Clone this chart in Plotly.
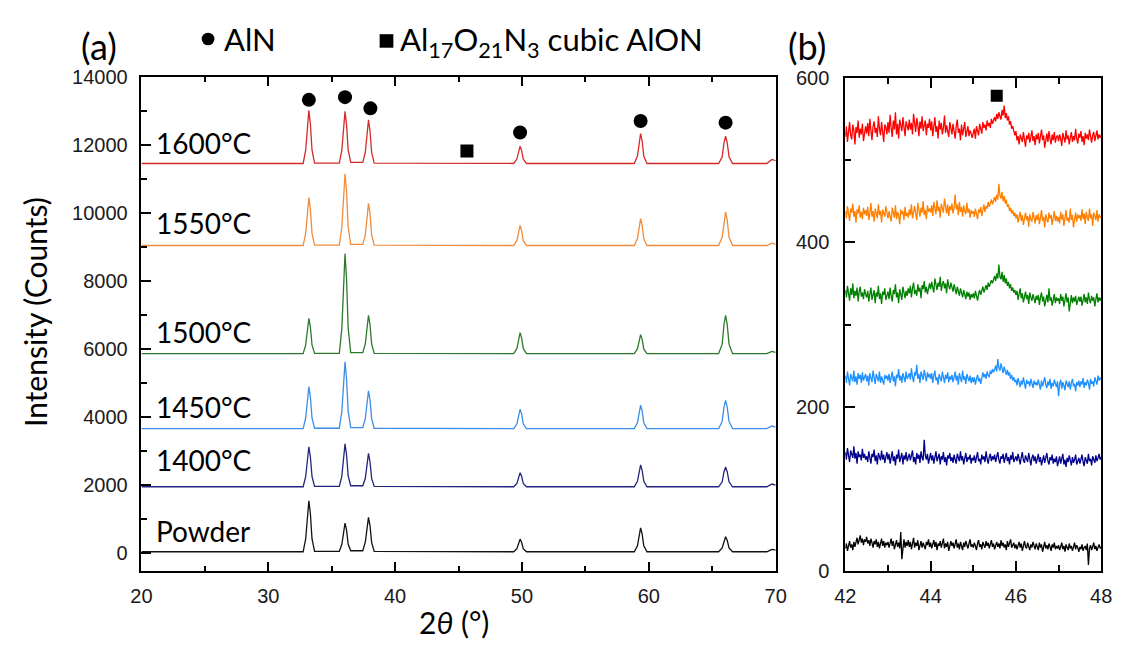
import plotly.graph_objects as go

W, H = 1123, 654

# ---------------- panel (a): full XRD patterns, 2θ = 20–70° ----------------
TWO_THETA_A = [20,
               32.75, 32.95, 33.08, 33.2, 33.32, 33.45, 33.65,
               35.6, 35.8, 35.93, 36.05, 36.17, 36.3, 36.5,
               37.45, 37.65, 37.78, 37.9, 38.02, 38.15, 38.35,
               49.35, 49.6, 49.73, 49.85, 49.97, 50.1, 50.35,
               58.85, 59.1, 59.23, 59.35, 59.47, 59.6, 59.85,
               65.5, 65.78, 65.92, 66.05, 66.18, 66.32, 66.6,
               69.3, 69.7, 70]

I_POWDER = [40,
            40, 415, 1165, 1540, 1165, 415, 50,
            50, 260, 680, 880, 680, 260, 70,
            70, 320, 810, 1050, 810, 310, 50,
            40, 130, 320, 410, 320, 130, 40,
            40, 215, 565, 740, 565, 215, 40,
            40, 150, 370, 480, 370, 150, 40,
            40, 110, 90]
I_1400 = [1950,
          1950, 2245, 2830, 3125, 2830, 2245, 1960,
          1960, 2265, 2895, 3210, 2895, 2270, 1980,
          1980, 2200, 2685, 2930, 2685, 2195, 1960,
          1950, 2050, 2260, 2360, 2260, 2050, 1950,
          1950, 2110, 2430, 2590, 2430, 2110, 1950,
          1950, 2095, 2385, 2530, 2385, 2095, 1950,
          1950, 2030, 2000]
I_1450 = [3660,
          3660, 3970, 4585, 4890, 4585, 3970, 3670,
          3670, 4160, 5130, 5620, 5130, 4165, 3690,
          3690, 3950, 4495, 4770, 4495, 3945, 3670,
          3660, 3800, 4090, 4230, 4090, 3800, 3660,
          3660, 3830, 4180, 4350, 4180, 3830, 3660,
          3660, 3870, 4285, 4490, 4285, 3870, 3660,
          3660, 3740, 3700]
I_1500 = [5860,
          5860, 6120, 6640, 6900, 6640, 6120, 5870,
          5870, 6605, 8065, 8800, 8065, 6610, 5890,
          5890, 6150, 6715, 6990, 6715, 6145, 5870,
          5860, 6015, 6325, 6480, 6325, 6015, 5860,
          5860, 6000, 6280, 6420, 6280, 6000, 5860,
          5860, 6140, 6710, 6990, 6710, 6140, 5860,
          5860, 5930, 5900]
I_1550 = [9040,
          9040, 9390, 10100, 10450, 10100, 9395, 9050,
          9050, 9575, 10625, 11150, 10625, 9580, 9070,
          9070, 9345, 9975, 10280, 9975, 9345, 9050,
          9040, 9190, 9480, 9630, 9480, 9190, 9040,
          9040, 9240, 9630, 9830, 9630, 9240, 9040,
          9040, 9290, 9780, 10030, 9780, 9290, 9040,
          9040, 9110, 9080]
I_1600 = [11450,
          11450, 11840, 12620, 13010, 12620, 11840, 11460,
          11460, 11840, 12600, 12980, 12600, 11845, 11480,
          11480, 11780, 12410, 12730, 12410, 11775, 11460,
          11450, 11580, 11830, 11960, 11830, 11580, 11450,
          11450, 11670, 12110, 12330, 12110, 11670, 11450,
          11450, 11650, 12050, 12250, 12050, 11650, 11450,
          11450, 11570, 11530]

SAMPLES = ["Powder", "1400°C", "1450°C", "1500°C", "1550°C", "1600°C"]
PATTERNS_A = [I_POWDER, I_1400, I_1450, I_1500, I_1550, I_1600]
COLORS_A = ["#111111", "#24247e", "#3d8ee6", "#2d7a2d", "#f08c3c", "#d42a2a"]
LABEL_Y_A = [650, 2730, 4290, 6500, 9690, 12050]

# phase markers above the reflections
ALN_X = [33.2, 36.05, 38.05, 49.85, 59.35, 66.05]
ALN_Y = [13320, 13400, 13070, 12360, 12700, 12650]
ALON_X_A = [45.66]
ALON_Y_A = [11820]

# ---------------- panel (b): detail scans, 2θ = 42–48°, step 0.025° ----------------
B_1600 = [528, 541, 522, 537, 546, 530, 525, 543, 536, 519, 540, 533, 548, 527, 538, 531, 544, 523, 536, 541,
          532, 545, 529, 550, 536, 524, 541, 547, 533, 539, 528, 553, 538, 530, 546, 535, 522, 543, 540, 531,
          546, 533, 555, 539, 528, 548, 537, 558, 531, 544, 526, 549, 540, 535, 552, 538, 529, 547, 542, 536,
          549, 537, 545, 531, 556, 540, 534, 551, 543, 529, 547, 538, 553, 535, 542, 548, 530, 544, 539, 550,
          536, 547, 529, 543, 552, 534, 541, 526, 548, 537, 545, 531, 539, 554, 533, 542, 536, 528, 546, 540,
          531, 544, 535, 526, 541, 549, 533, 538, 524, 543, 530, 537, 546, 528, 535, 541, 529, 536, 532, 527,
          533, 538, 526, 541, 535, 530, 544, 537, 532, 546, 539, 543, 536, 548, 541, 545, 539, 550, 544, 548,
          552, 547, 556, 550, 558, 553, 549, 561, 554, 566, 551, 557, 548, 553, 543, 547, 538, 541, 533, 530,
          535, 524, 529, 519, 531, 526, 522, 534, 527, 516, 530, 525, 533, 521, 528, 536, 523, 529, 518, 531,
          525, 533, 520, 528, 537, 524, 530, 515, 527, 532, 522, 535, 526, 519, 531, 524, 534, 521, 528, 530,
          523, 531, 526, 517, 533, 528, 521, 536, 525, 530, 519, 527, 534, 522, 529, 524, 538, 526, 520, 532,
          527, 535, 522, 529, 518, 533, 526, 531, 524, 537, 528, 521, 530, 534, 523, 529, 536, 525, 531, 527,
          530]
B_1550 = [438, 429, 444, 433, 426, 441, 436, 447, 431, 438, 424, 440, 435, 445, 430, 437, 428, 442, 434, 439,
          432, 443, 427, 436, 448, 431, 438, 425, 441, 435, 429, 446, 433, 438, 424, 440, 436, 431, 444, 437,
          429, 438, 433, 425, 442, 436, 430, 445, 428, 437, 433, 422, 440, 434, 438, 427, 443, 432, 436, 430,
          440, 433, 446, 429, 438, 444, 435, 427, 448, 437, 431, 442, 436, 450, 433, 439, 428, 445, 437, 441,
          436, 445, 432, 449, 439, 434, 451, 438, 443, 430, 447, 440, 436, 453, 441, 435, 446, 432, 444, 439,
          447, 435, 442, 458, 440, 446, 433, 449, 437, 443, 431, 445, 438, 434, 448, 436, 441, 430, 439, 435,
          438, 431, 441, 434, 428, 440, 436, 443, 432, 439, 446, 437, 444, 441, 449, 443, 447, 452, 446, 450,
          455, 449, 458, 452, 471, 457, 453, 461, 450, 456, 447, 452, 443, 446, 438, 442, 435, 439, 432, 436,
          429, 434, 424, 431, 437, 426, 433, 421, 430, 436, 427, 432, 419, 434, 428, 425, 437, 430, 423, 433,
          427, 435, 422, 430, 439, 426, 431, 418, 434, 428, 424, 436, 429, 433, 421, 430, 438, 426, 432, 425,
          431, 423, 437, 428, 434, 420, 432, 439, 426, 430, 424, 441, 427, 433, 418, 431, 436, 425, 434, 429,
          433, 426, 440, 428, 435, 422, 437, 430, 426, 441, 429, 434, 420, 436, 431, 427, 439, 425, 434, 430,
          432]
B_1500 = [342, 333, 347, 338, 329, 344, 336, 350, 332, 341, 335, 345, 328, 340, 346, 334, 339, 331, 343, 337,
          333, 341, 328, 337, 345, 330, 336, 342, 326, 339, 334, 347, 331, 338, 325, 340, 336, 344, 330, 337,
          340, 331, 345, 335, 328, 342, 337, 349, 333, 339, 326, 343, 336, 330, 346, 338, 332, 341, 335, 344,
          338, 347, 333, 344, 351, 337, 342, 335, 349, 340, 345, 332, 348, 343, 353, 339, 346, 337, 344, 350,
          343, 352, 345, 339, 356, 348, 342, 351, 346, 358, 341, 349, 353, 344, 350, 338, 355, 347, 343, 351,
          346, 340, 349, 343, 337, 346, 341, 335, 344, 338, 333, 342, 336, 331, 340, 334, 339, 330, 337, 333,
          338, 332, 341, 335, 329, 337, 342, 336, 340, 346, 339, 344, 348, 342, 351, 346, 349, 354, 350, 356,
          359, 353, 362, 356, 373, 358, 355, 364, 352, 360, 350, 356, 347, 352, 344, 349, 341, 345, 339, 342,
          336, 341, 330, 337, 344, 332, 338, 327, 335, 340, 331, 336, 325, 339, 333, 329, 337, 331, 326, 335,
          330, 336, 324, 333, 339, 328, 334, 322, 331, 336, 327, 344, 329, 333, 323, 331, 337, 326, 333, 329,
          332, 325, 337, 329, 334, 322, 331, 338, 327, 333, 316, 330, 336, 326, 333, 328, 335, 324, 331, 334,
          328, 334, 323, 331, 337, 327, 333, 325, 339, 330, 326, 335, 329, 333, 322, 331, 338, 327, 333, 329,
          333]
B_1450 = [238, 229, 243, 233, 226, 240, 235, 231, 244, 230, 237, 227, 241, 234, 239, 229, 242, 232, 236, 240,
          231, 238, 226, 241, 235, 230, 244, 233, 228, 240, 236, 231, 243, 229, 237, 233, 227, 239, 234, 238,
          232, 240, 229, 236, 243, 231, 237, 225, 239, 235, 246, 232, 238, 229, 241, 236, 230, 243, 234, 237,
          241, 233, 247, 236, 230, 242, 238, 251, 234, 240, 229, 243, 237, 233, 245, 239, 231, 242, 236, 240,
          234, 241, 229, 238, 244, 232, 236, 227, 240, 235, 231, 243, 237, 229, 239, 234, 242, 230, 237, 233,
          239, 230, 236, 243, 232, 238, 227, 241, 235, 230, 244, 233, 237, 228, 240, 234, 231, 238, 229, 236,
          230, 236, 227, 234, 239, 231, 235, 228, 237, 242, 236, 240, 234, 243, 238, 236, 244, 240, 246, 242,
          245, 250, 243, 258, 248, 244, 253, 246, 241, 249, 244, 239, 245, 238, 242, 234, 239, 232, 236, 230,
          233, 226, 235, 229, 224, 232, 227, 236, 230, 222, 233, 228, 231, 225, 234, 229, 223, 232, 227, 230,
          226, 233, 228, 221, 232, 225, 230, 236, 227, 223, 231, 226, 234, 222, 229, 225, 233, 228, 224, 231,
          213, 228, 233, 222, 230, 226, 220, 232, 227, 224, 231, 221, 229, 234, 225, 228, 219, 230, 226, 232,
          224, 231, 227, 235, 223, 230, 226, 233, 229, 221, 234, 228, 231, 225, 236, 230, 227, 238, 232, 235,
          234]
B_1400 = [145, 136, 150, 140, 133, 147, 141, 138, 152, 137, 144, 131, 146, 139, 142, 135, 149, 138, 143, 136,
          140, 133, 146, 137, 131, 143, 139, 148, 134, 141, 130, 144, 138, 135, 147, 136, 142, 132, 139, 145,
          136, 143, 131, 139, 146, 134, 140, 129, 142, 137, 148, 133, 139, 144, 130, 141, 136, 145, 134, 138,
          143, 135, 140, 147, 133, 139, 130, 144, 137, 142, 132, 146, 138, 135, 160, 141, 136, 143, 131, 139,
          144, 135, 141, 131, 139, 146, 134, 138, 143, 130, 140, 136, 145, 133, 139, 129, 141, 137, 144, 134,
          139, 132, 142, 136, 131, 143, 138, 134, 146, 135, 140, 130, 137, 144, 133, 139, 136, 142, 131, 138,
          135, 141, 132, 139, 145, 134, 137, 130, 142, 136, 140, 133, 146, 137, 131, 139, 143, 134, 140, 136,
          142, 133, 139, 145, 136, 131, 140, 137, 143, 132, 138, 144, 134, 139, 130, 141, 136, 145, 133, 138,
          140, 134, 143, 137, 130, 139, 145, 135, 132, 141, 137, 133, 144, 136, 129, 138, 142, 134, 140, 131,
          137, 143, 133, 139, 129, 136, 141, 132, 138, 144, 134, 130, 139, 135, 142, 131, 137, 133, 140, 128,
          134, 140, 131, 137, 143, 130, 136, 127, 138, 133, 141, 135, 129, 139, 132, 136, 142, 130, 135, 138,
          131, 137, 142, 133, 128, 139, 135, 131, 143, 134, 137, 129, 140, 136, 132, 141, 134, 138, 143, 136,
          139]
B_POWDER = [28, 34, 25, 31, 37, 29, 33, 26, 36, 30, 35, 41, 33, 38, 44, 35, 40, 32, 39, 36,
            42, 34, 38, 31, 40, 35, 29, 37, 33, 39, 30, 36, 28, 34, 40, 31, 37, 29, 35, 32,
            36, 29, 34, 40, 31, 37, 27, 33, 38, 30, 35, 28, 48, 15, 33, 39, 29, 36, 31, 38,
            30, 36, 27, 34, 41, 29, 35, 31, 38, 26, 33, 37, 29, 35, 31, 27, 36, 32, 39, 30,
            35, 28, 33, 38, 30, 36, 26, 34, 31, 37, 29, 33, 40, 28, 34, 30, 36, 25, 32, 37,
            31, 35, 28, 33, 39, 29, 34, 27, 36, 31, 26, 35, 30, 37, 32, 28, 34, 39, 30, 33,
            29, 35, 31, 26, 34, 38, 30, 33, 27, 36, 32, 29, 37, 31, 35, 28, 33, 38, 30, 34,
            27, 32, 36, 30, 34, 28, 38, 31, 35, 29, 33, 26, 37, 30, 34, 39, 29, 32, 35, 28,
            33, 27, 31, 36, 29, 34, 25, 32, 37, 30, 28, 35, 31, 26, 33, 29, 36, 30, 27, 34,
            31, 26, 35, 29, 33, 24, 30, 36, 28, 32, 27, 34, 30, 25, 33, 29, 35, 27, 31, 28,
            32, 26, 30, 35, 27, 31, 24, 33, 29, 26, 34, 28, 31, 25, 30, 35, 27, 32, 29, 24,
            30, 27, 33, 25, 29, 31, 26, 34, 8, 28, 32, 26, 30, 35, 27, 31, 25, 29, 33, 28,
            30]

PATTERNS_B = [B_POWDER, B_1400, B_1450, B_1500, B_1550, B_1600]
COLORS_B = ["#000000", "#00008b", "#1e90ff", "#008000", "#ff8000", "#ff0000"]
SCAN_B_START, SCAN_B_END = 42.0, 48.0
ALON_X_B = [45.55]
ALON_Y_B = [578]


def px(x):
    return x / W


def py(y):
    return 1 - y / H


def scan_axis(values):
    """Evenly spaced 2θ steps covering the detail scan."""
    n = len(values)
    step = (SCAN_B_END - SCAN_B_START) / (n - 1)
    return [SCAN_B_START + i * step for i in range(n)]


fig = go.Figure()

for name, ys, col in zip(SAMPLES, PATTERNS_A, COLORS_A):
    fig.add_trace(go.Scatter(x=TWO_THETA_A, y=ys, mode="lines", name=name,
                             line=dict(color=col, width=1.3), xaxis="x", yaxis="y",
                             showlegend=False))

fig.add_trace(go.Scatter(x=ALN_X, y=ALN_Y, mode="markers",
                         marker=dict(symbol="circle", size=14, color="black"),
                         xaxis="x", yaxis="y", showlegend=False))
fig.add_trace(go.Scatter(x=ALON_X_A, y=ALON_Y_A, mode="markers",
                         marker=dict(symbol="square", size=13, color="black"),
                         xaxis="x", yaxis="y", showlegend=False))

for name, ys, col in zip(SAMPLES, PATTERNS_B, COLORS_B):
    fig.add_trace(go.Scatter(x=scan_axis(ys), y=ys, mode="lines", name=name,
                             line=dict(color=col, width=1.3), xaxis="x2", yaxis="y2",
                             showlegend=False))

fig.add_trace(go.Scatter(x=ALON_X_B, y=ALON_Y_B, mode="markers",
                         marker=dict(symbol="square", size=12, color="black"),
                         xaxis="x2", yaxis="y2", showlegend=False))

tick_font = dict(family="Liberation Sans, Arial, sans-serif", size=20, color="#1a1a1a")
label_font = "Lato, Calibri, sans-serif"

axis_common = dict(showgrid=False, zeroline=False, showline=True, linecolor="black",
                   ticks="inside", tickcolor="black", tickfont=tick_font)

fig.update_layout(
    width=W, height=H,
    margin=dict(l=0, r=0, t=0, b=0),
    paper_bgcolor="white", plot_bgcolor="white",
    xaxis=dict(domain=[px(133), px(780)], range=[20, 70], tick0=20, dtick=10,
               ticklen=10, tickwidth=1.5, linewidth=1.5, mirror="ticks",
               minor=dict(ticks="inside", dtick=5, ticklen=6, tickwidth=1.5, tickcolor="black"),
               ticklabelstandoff=6, anchor="y", **axis_common),
    yaxis=dict(domain=[py(580), py(68)], range=[-540, 14000], tick0=0, dtick=2000,
               tickformat="d",
               ticklen=10, tickwidth=1.5, linewidth=1.5, mirror=True,
               minor=dict(ticks="inside", dtick=1000, ticklen=6, tickwidth=1.5, tickcolor="black"),
               ticklabelstandoff=8, anchor="x", **axis_common),
    xaxis2=dict(domain=[px(851), px(1112)], range=[42, 48], tick0=42, dtick=2,
                ticklen=10, tickwidth=2, linewidth=2, mirror="ticks",
                minor=dict(ticks="inside", dtick=1, ticklen=6, tickwidth=2, tickcolor="black"),
                ticklabelstandoff=6, anchor="y2", **axis_common),
    yaxis2=dict(domain=[py(580), py(69)], range=[0, 600], tick0=0, dtick=200,
                tickformat="d",
                ticklen=10, tickwidth=2, linewidth=2, mirror=True,
                minor=dict(ticks="inside", dtick=100, ticklen=6, tickwidth=2, tickcolor="black"),
                ticklabelstandoff=10, anchor="x2", **axis_common),
)

annotations = []
# sample labels inside panel (a)
for name, ly in zip(SAMPLES, LABEL_Y_A):
    annotations.append(dict(x=21.0, y=ly, xref="x", yref="y", text=name, showarrow=False,
                            xanchor="left", yanchor="middle",
                            font=dict(family=label_font, size=28, color="black")))

annotations += [
    dict(x=px(90), y=py(36), xref="paper", yref="paper", text="(a)", showarrow=False,
         xanchor="center", yanchor="middle", font=dict(family=label_font, size=36, color="black")),
    dict(x=px(812), y=py(36), xref="paper", yref="paper", text="(b)", showarrow=False,
         xanchor="center", yanchor="middle", font=dict(family=label_font, size=36, color="black")),
    dict(x=px(215), y=py(29), xref="paper", yref="paper", text="AlN", showarrow=False,
         xanchor="left", yanchor="middle", font=dict(family=label_font, size=31, color="black")),
    dict(x=px(395), y=py(32), xref="paper", yref="paper",
         text="Al<sub>17</sub>O<sub>21</sub>N<sub>3</sub> cubic AlON", showarrow=False,
         xanchor="left", yanchor="middle", font=dict(family=label_font, size=31, color="black")),
    dict(x=px(24), y=py(312), xref="paper", yref="paper", text="Intensity (Counts)",
         showarrow=False, textangle=-90, xanchor="center", yanchor="middle",
         font=dict(family=label_font, size=30, color="black")),
    dict(x=px(452), y=py(632), xref="paper", yref="paper", text="2<i>θ</i> (°)",
         showarrow=False, xanchor="center", yanchor="middle",
         font=dict(family=label_font, size=30, color="black")),
]
fig.update_layout(annotations=annotations)

# legend symbols in the header line
fig.add_shape(type="circle", xref="paper", yref="paper",
              x0=px(194.5), x1=px(207.5), y0=py(35.5), y1=py(22.5),
              fillcolor="black", line=dict(color="black", width=0))
fig.add_shape(type="rect", xref="paper", yref="paper",
              x0=px(376), x1=px(390), y0=py(38), y1=py(24),
              fillcolor="black", line=dict(color="black", width=0))

fig.write_html("out.html")
